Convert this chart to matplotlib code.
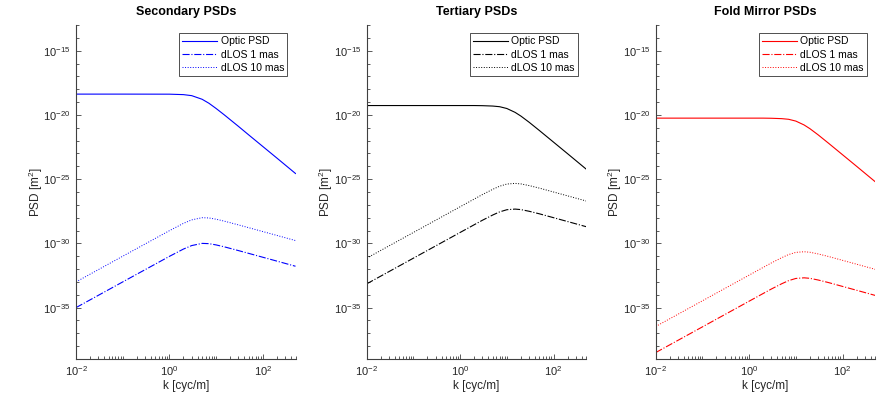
import numpy as np
import matplotlib
matplotlib.use("Agg")
import matplotlib.pyplot as plt
from matplotlib.ticker import LogLocator, NullFormatter, FixedLocator

plt.rcParams['font.family'] = ['Liberation Sans', 'DejaVu Sans']
plt.rcParams['mathtext.fontset'] = 'custom'
plt.rcParams['mathtext.rm'] = 'Liberation Sans'
plt.rcParams['mathtext.it'] = 'Liberation Sans:italic'
plt.rcParams['axes.unicode_minus'] = False

# spatial frequency samples [cyc/m]
k = [0.01, 0.1, 1, 2, 3, 5, 7, 10, 15, 20, 30, 50, 100, 200, 500]

# log10 PSD values
sec_optic = [-18.38, -18.38, -18.385, -18.42, -18.50, -18.78, -19.09, -19.50, -20.00, -20.37, -20.89, -21.56, -22.46, -23.36, -24.56]
sec_dlos1 = [-35.0, -33.0, -31.01, -30.44, -30.17, -30.00, -30.02, -30.12, -30.27, -30.39, -30.56, -30.78, -31.08, -31.38, -31.78]
sec_dlos10 = [-33.0, -31.0, -29.01, -28.44, -28.17, -28.00, -28.02, -28.12, -28.27, -28.39, -28.56, -28.78, -29.08, -29.38, -29.78]

ter_optic = [-19.27, -19.27, -19.27, -19.27, -19.28, -19.31, -19.36, -19.50, -19.80, -20.09, -20.57, -21.22, -22.12, -23.02, -24.22]
ter_dlos1 = [-33.15, -31.15, -29.15, -28.55, -28.20, -27.79, -27.55, -27.38, -27.33, -27.37, -27.50, -27.70, -28.00, -28.30, -28.70]
ter_dlos10 = [-31.15, -29.15, -27.15, -26.55, -26.20, -25.79, -25.55, -25.38, -25.33, -25.37, -25.50, -25.70, -26.00, -26.30, -26.70]

fold_optic = [-20.25, -20.25, -20.25, -20.25, -20.26, -20.29, -20.34, -20.48, -20.78, -21.07, -21.55, -22.20, -23.10, -24.00, -25.20]
fold_dlos1 = [-38.50, -36.50, -34.50, -33.90, -33.55, -33.14, -32.90, -32.73, -32.68, -32.72, -32.85, -33.05, -33.35, -33.65, -34.05]
fold_dlos10 = [-36.47, -34.47, -32.47, -31.87, -31.52, -31.11, -30.87, -30.70, -30.65, -30.69, -30.82, -31.02, -31.32, -31.62, -32.02]

titles = ['Secondary PSDs', 'Tertiary PSDs', 'Fold Mirror PSDs']
colors = ['#0000ff', '#000000', '#ff0000']
labels = ['Optic PSD', 'dLOS 1 mas', 'dLOS 10 mas']
panels = [(sec_optic, sec_dlos1, sec_dlos10),
          (ter_optic, ter_dlos1, ter_dlos10),
          (fold_optic, fold_dlos1, fold_dlos10)]

W, H = 886, 395
fig = plt.figure(figsize=(W / 100, H / 100), dpi=100)
lefts = [76, 366.7, 655.7]
axc = '#404040'
for i in range(3):
    ax = fig.add_axes([lefts[i] / W, (H - 359) / H, 219.5 / W, 334 / H])
    optic, d1, d10 = panels[i]
    c = colors[i]
    ax.plot(k, np.power(10.0, optic), '-', color=c, lw=0.8, label=labels[0])
    ax.plot(k, np.power(10.0, d1), '-.', color=c, lw=0.8, label=labels[1])
    ax.plot(k, np.power(10.0, d10), ':', color=c, lw=0.7, label=labels[2])
    ax.set_xscale('log')
    ax.set_yscale('log')
    ax.set_xlim(1e-2, 500)
    ax.set_ylim(1e-39, 1e-13)
    for s in ['top', 'right']:
        ax.spines[s].set_visible(False)
    for s in ['left', 'bottom']:
        ax.spines[s].set_color(axc)
        ax.spines[s].set_linewidth(0.8)
    ax.xaxis.set_major_locator(FixedLocator([1e-2, 1e0, 1e2]))
    ax.xaxis.set_minor_locator(LogLocator(base=10, subs=np.arange(1, 10), numticks=50))
    ax.xaxis.set_minor_formatter(NullFormatter())
    ax.yaxis.set_major_locator(FixedLocator([1e-35, 1e-30, 1e-25, 1e-20, 1e-15]))
    ax.yaxis.set_minor_locator(FixedLocator([10.0 ** e for e in range(-39, -12)]))
    ax.yaxis.set_minor_formatter(NullFormatter())
    ax.tick_params(which='both', direction='in', colors=axc, labelcolor='#262626', labelsize=8, width=0.6)
    ax.tick_params(which='major', length=3.5, pad=4)
    ax.tick_params(which='minor', length=2)
    ax.set_title(titles[i], fontsize=9, fontweight='bold', pad=7)
    ax.set_xlabel('k [cyc/m]', fontsize=8.5, color='#262626', labelpad=1)
    ax.set_ylabel('PSD [m$^2$]', fontsize=8.5, color='#262626', labelpad=-1)
    leg = ax.legend(loc='upper right', fontsize=7.5, handlelength=3.4, handletextpad=0.3,
                    borderpad=0.3, labelspacing=0.3, fancybox=False, framealpha=1,
                    borderaxespad=0.8)
    leg.get_frame().set_edgecolor('#333333')
    leg.get_frame().set_linewidth(0.6)

fig.savefig('out.png', dpi=100)
